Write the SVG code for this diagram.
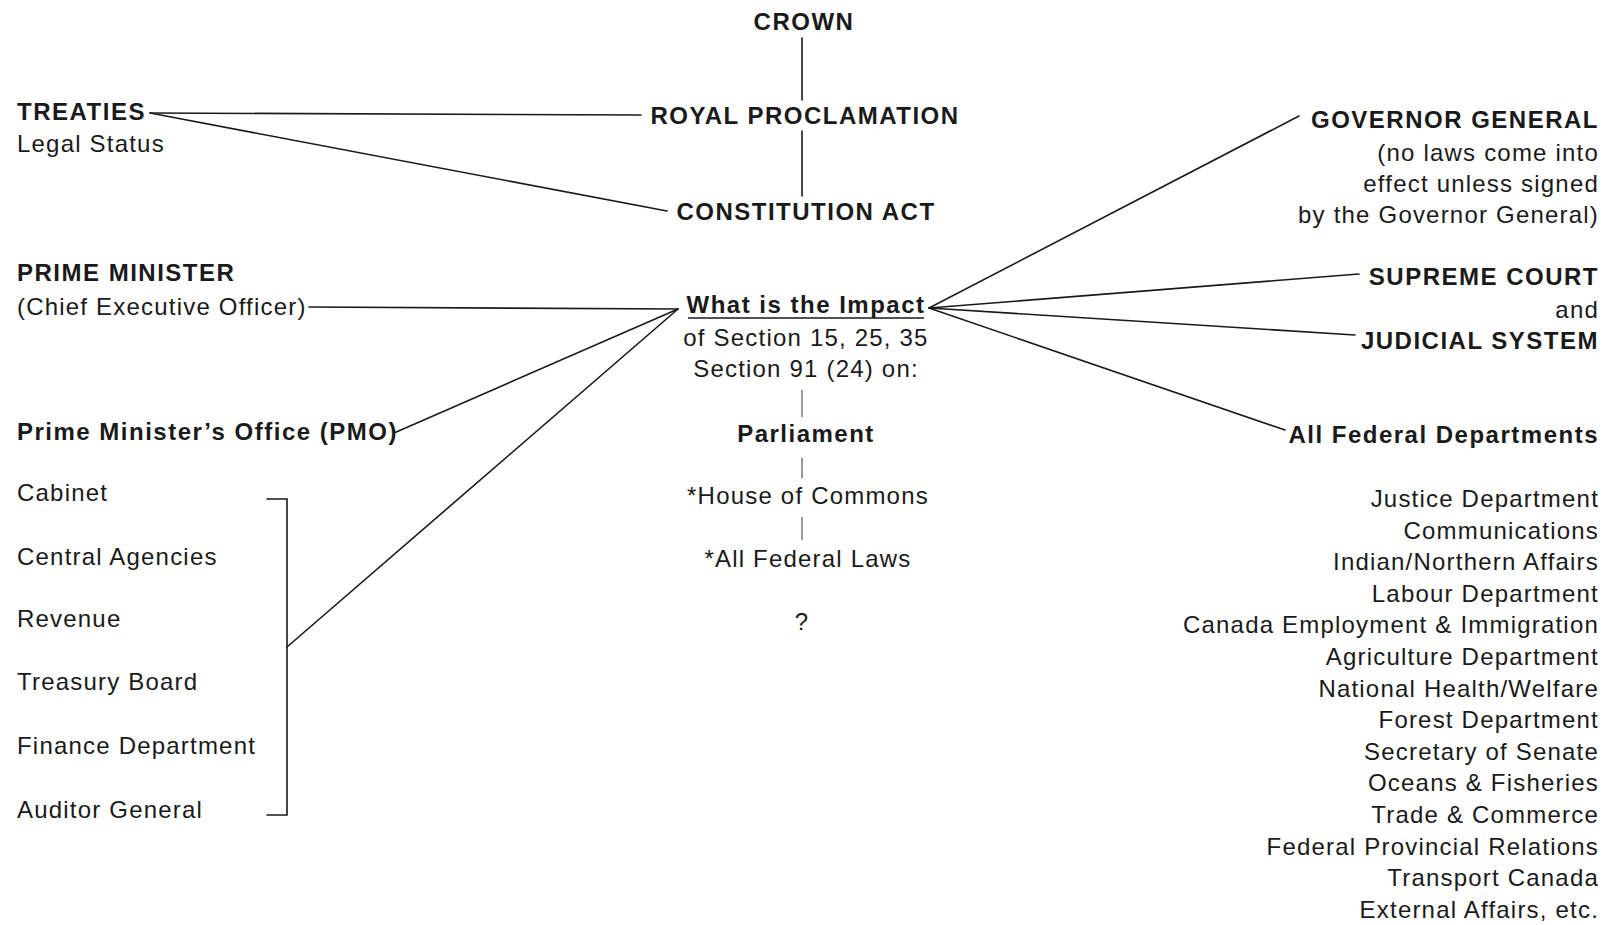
<svg xmlns="http://www.w3.org/2000/svg" width="1614" height="925" viewBox="0 0 1614 925">
  <style>
    text { font-family: "Liberation Sans", Arial, sans-serif; fill: #1a1a1a; font-size: 24px; letter-spacing: 1.2px; }
    .b { font-weight: bold; letter-spacing: 1.5px; }
    .m { text-anchor: middle; }
    .r { text-anchor: end; }
    .ln { stroke: #1a1a1a; stroke-width: 1.6; fill: none; stroke-linecap: round; }
    .thin { stroke: #555; stroke-width: 1.2; fill: none; }
  </style>
  <rect width="1614" height="925" fill="#ffffff"/>

  <!-- connectors -->
  <g id="connectors">
    <line class="ln" x1="802" y1="38" x2="802" y2="100"/>
    <line class="ln" x1="802" y1="131" x2="802" y2="196"/>
    <line class="ln" x1="150" y1="113" x2="641" y2="115"/>
    <line class="ln" x1="150" y1="113" x2="667" y2="211"/>
    <line class="ln" x1="309" y1="307" x2="678" y2="309"/>
    <line class="ln" x1="394" y1="433" x2="678" y2="309"/>
    <line class="ln" x1="287" y1="647" x2="678" y2="309"/>
    <path class="ln" d="M267,499 H287 V815 H267"/>
    <line class="ln" x1="1299" y1="116" x2="929" y2="308"/>
    <line class="ln" x1="1359" y1="274" x2="929" y2="308"/>
    <line class="ln" x1="1355" y1="335" x2="929" y2="308"/>
    <line class="ln" x1="1285" y1="430" x2="929" y2="308"/>
    <line class="thin" x1="802" y1="390" x2="802" y2="417"/>
    <line class="thin" x1="802" y1="458" x2="802" y2="478"/>
    <line class="thin" x1="802" y1="517" x2="802" y2="540"/>
  </g>

  <!-- centre column -->
  <g id="crown"><text class="b m" x="804" y="30">CROWN</text></g>
  <g id="royal-proclamation"><text class="b m" x="805" y="124">ROYAL PROCLAMATION</text></g>
  <g id="constitution-act"><text class="b m" x="806" y="220">CONSTITUTION ACT</text></g>
  <g id="impact">
    <text class="b m" x="806" y="313">What is the Impact</text>
    <line x1="688" y1="318" x2="924" y2="318" stroke="#1a1a1a" stroke-width="1.5"/>
    <text class="m" x="806" y="346">of Section 15, 25, 35</text>
    <text class="m" x="806" y="377">Section 91 (24) on:</text>
  </g>
  <g id="parliament"><text class="b m" x="806" y="442">Parliament</text></g>
  <g id="house-of-commons"><text class="m" x="808" y="504">*House of Commons</text></g>
  <g id="federal-laws"><text class="m" x="808" y="567">*All Federal Laws</text></g>
  <g id="question"><text class="m" x="802" y="630">?</text></g>

  <!-- left side -->
  <g id="treaties">
    <text class="b" x="17" y="120">TREATIES</text>
    <text x="17" y="152">Legal Status</text>
  </g>
  <g id="prime-minister">
    <text class="b" x="17" y="281">PRIME MINISTER</text>
    <text x="17" y="315">(Chief Executive Officer)</text>
  </g>
  <g id="pmo"><text class="b" x="17" y="440">Prime Minister’s Office (PMO)</text></g>
  <g id="central-bodies">
    <text x="17" y="501">Cabinet</text>
    <text x="17" y="565">Central Agencies</text>
    <text x="17" y="627">Revenue</text>
    <text x="17" y="690">Treasury Board</text>
    <text x="17" y="754">Finance Department</text>
    <text x="17" y="818">Auditor General</text>
  </g>

  <!-- right side -->
  <g id="governor-general">
    <text class="b r" x="1599" y="128">GOVERNOR GENERAL</text>
    <text class="r" x="1599" y="161">(no laws come into</text>
    <text class="r" x="1599" y="192">effect unless signed</text>
    <text class="r" x="1599" y="223">by the Governor General)</text>
  </g>
  <g id="courts">
    <text class="b r" x="1599" y="285">SUPREME COURT</text>
    <text class="r" x="1599" y="318">and</text>
    <text class="b r" x="1599" y="349">JUDICIAL SYSTEM</text>
  </g>
  <g id="federal-departments">
    <text class="b r" x="1599" y="443">All Federal Departments</text>
    <text class="r" x="1599" y="507">Justice Department</text>
    <text class="r" x="1599" y="539">Communications</text>
    <text class="r" x="1599" y="570">Indian/Northern Affairs</text>
    <text class="r" x="1599" y="602">Labour Department</text>
    <text class="r" x="1599" y="633">Canada Employment &amp; Immigration</text>
    <text class="r" x="1599" y="665">Agriculture Department</text>
    <text class="r" x="1599" y="697">National Health/Welfare</text>
    <text class="r" x="1599" y="728">Forest Department</text>
    <text class="r" x="1599" y="760">Secretary of Senate</text>
    <text class="r" x="1599" y="791">Oceans &amp; Fisheries</text>
    <text class="r" x="1599" y="823">Trade &amp; Commerce</text>
    <text class="r" x="1599" y="855">Federal Provincial Relations</text>
    <text class="r" x="1599" y="886">Transport Canada</text>
    <text class="r" x="1599" y="918">External Affairs, etc.</text>
  </g>
</svg>
